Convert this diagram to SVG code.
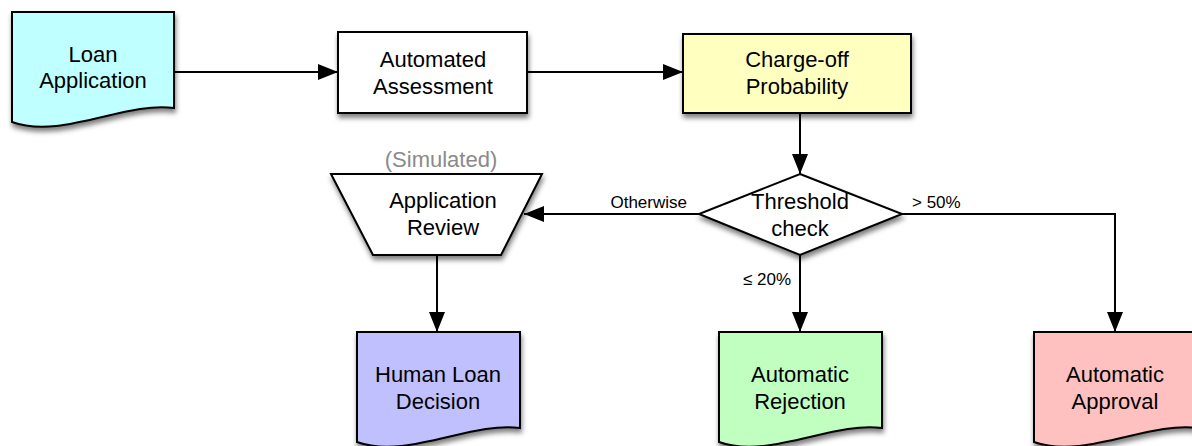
<svg xmlns="http://www.w3.org/2000/svg" width="1192" height="446" viewBox="0 0 1192 446">
  <defs>
    <style>
      .shape { stroke: #000; stroke-width: 2; stroke-linejoin: miter; }
      .label { font-family: "Liberation Sans", Arial, sans-serif; font-size: 22px; fill: #000; text-anchor: middle; }
      .edge-label { font-family: "Liberation Sans", Arial, sans-serif; font-size: 17px; fill: #000; }
      .note { font-family: "Liberation Sans", Arial, sans-serif; font-size: 22px; fill: #8a8a8a; text-anchor: middle; }
      .edge { fill: none; stroke: #000; stroke-width: 2; }
    </style>
    <filter id="shadow" x="-10%" y="-10%" width="130%" height="140%">
      <feDropShadow dx="1" dy="4" stdDeviation="2.5" flood-color="#000" flood-opacity="0.5"/>
    </filter>
    <marker id="arrow" markerUnits="userSpaceOnUse" markerWidth="22" markerHeight="16" refX="20" refY="8" orient="auto">
      <path d="M0,0 L20,8 L0,16 Z" fill="#000"/>
    </marker>
    <!-- document shape with wavy bottom, 164 wide -->
    <path id="doc" d="M0,0 H164 V96 C115,89 50,128 0,110 Z"/>
  </defs>

  <rect width="1192" height="446" fill="#fff"/>

  <g id="connectors">
    <path class="edge" d="M174,72 H338" marker-end="url(#arrow)"/>
    <path class="edge" d="M527,72 H683" marker-end="url(#arrow)"/>
    <path class="edge" d="M800,113 V174" marker-end="url(#arrow)"/>
    <path class="edge" d="M699,214 H524" marker-end="url(#arrow)"/>
    <path class="edge" d="M902,214 H1115 V332" marker-end="url(#arrow)"/>
    <path class="edge" d="M800,255 V332" marker-end="url(#arrow)"/>
    <path class="edge" d="M437,255 V332" marker-end="url(#arrow)"/>
    <text class="edge-label" x="687" y="208" text-anchor="end">Otherwise</text>
    <text class="edge-label" x="912" y="208">&gt; 50%</text>
    <text class="edge-label" x="791" y="285" text-anchor="end">≤ 20%</text>
  </g>

  <g id="loan-application">
    <use href="#doc" class="shape" fill="#c0ffff" filter="url(#shadow)" transform="translate(12,12) scale(0.988,1)"/>
    <text class="label" x="93" y="62">Loan</text>
    <text class="label" x="93" y="88">Application</text>
  </g>

  <g id="automated-assessment">
    <rect class="shape" x="338" y="32" width="189" height="81" fill="#fff" filter="url(#shadow)"/>
    <text class="label" x="433" y="67">Automated</text>
    <text class="label" x="433" y="94">Assessment</text>
  </g>

  <g id="charge-off-probability">
    <rect class="shape" x="683" y="34" width="228" height="79" fill="#ffffc0" filter="url(#shadow)"/>
    <text class="label" x="797" y="67">Charge-off</text>
    <text class="label" x="797" y="94">Probability</text>
  </g>

  <g id="threshold-check">
    <path class="shape" d="M800,174 L902,214 L800,255 L699,214 Z" fill="#fff" filter="url(#shadow)"/>
    <text class="label" x="800" y="209">Threshold</text>
    <text class="label" x="800" y="236">check</text>
  </g>

  <g id="application-review">
    <text class="note" x="441" y="167">(Simulated)</text>
    <path class="shape" d="M331,174 H542 L501,255 H373 Z" fill="#fff" filter="url(#shadow)"/>
    <text class="label" x="443" y="208">Application</text>
    <text class="label" x="443" y="235">Review</text>
  </g>

  <g id="human-loan-decision">
    <use href="#doc" class="shape" fill="#c0c0ff" filter="url(#shadow)" transform="translate(357,332) scale(0.994,1)"/>
    <text class="label" x="438" y="382">Human Loan</text>
    <text class="label" x="438" y="409">Decision</text>
  </g>

  <g id="automatic-rejection">
    <use href="#doc" class="shape" fill="#c0ffc0" filter="url(#shadow)" transform="translate(719,332) scale(0.994,1)"/>
    <text class="label" x="800" y="382">Automatic</text>
    <text class="label" x="800" y="409">Rejection</text>
  </g>

  <g id="automatic-approval">
    <use href="#doc" class="shape" fill="#ffc0c0" filter="url(#shadow)" transform="translate(1034,332)"/>
    <text class="label" x="1115" y="382">Automatic</text>
    <text class="label" x="1115" y="409">Approval</text>
  </g>
</svg>
